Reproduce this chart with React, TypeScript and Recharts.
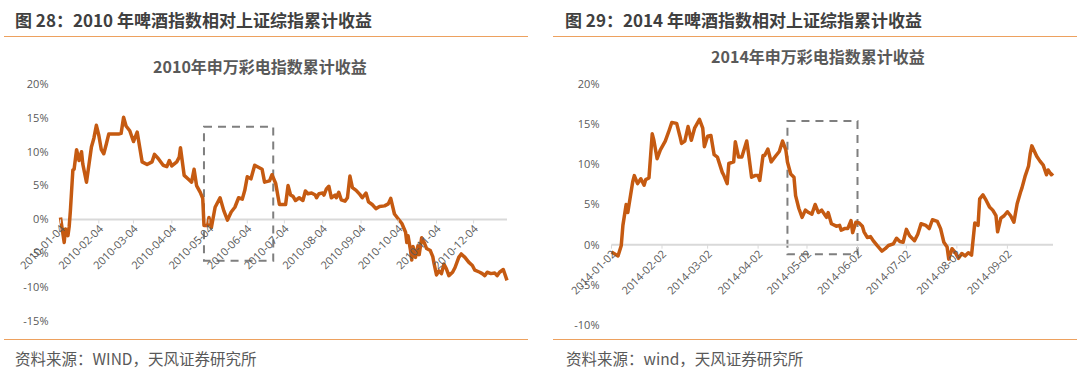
import { LineChart, Line, XAxis, YAxis, ReferenceLine, ReferenceArea } from 'recharts';

// ---- 2010 ----
const dates2010 = [
  '2010-01-04', '2010-01-07', '2010-01-08', '2010-01-10', '2010-01-11', '2010-01-12', '2010-01-14', '2010-01-15',
  '2010-01-17', '2010-01-19', '2010-01-21', '2010-01-22', '2010-01-25', '2010-01-29', '2010-01-31',
  '2010-02-02', '2010-02-04', '2010-02-06', '2010-02-08', '2010-02-10', '2010-02-12', '2010-02-20', '2010-02-22',
  '2010-02-24', '2010-02-26',
  '2010-03-01', '2010-03-04', '2010-03-07', '2010-03-11', '2010-03-15', '2010-03-19', '2010-03-21', '2010-03-24',
  '2010-03-28', '2010-03-31',
  '2010-04-02', '2010-04-04', '2010-04-08', '2010-04-10', '2010-04-11', '2010-04-14', '2010-04-17', '2010-04-20',
  '2010-04-22', '2010-04-24', '2010-04-27', '2010-04-29', '2010-04-30',
  '2010-05-03', '2010-05-04', '2010-05-06', '2010-05-09', '2010-05-13', '2010-05-16', '2010-05-19', '2010-05-22',
  '2010-05-25', '2010-05-28', '2010-05-31',
  '2010-06-02', '2010-06-04', '2010-06-07', '2010-06-10', '2010-06-13', '2010-06-16', '2010-06-18', '2010-06-22',
  '2010-06-24', '2010-06-27', '2010-06-30',
  '2010-07-05', '2010-07-07', '2010-07-09', '2010-07-11', '2010-07-13', '2010-07-16', '2010-07-19', '2010-07-21',
  '2010-07-23', '2010-07-26', '2010-07-29', '2010-07-30',
  '2010-08-01', '2010-08-04', '2010-08-05', '2010-08-07', '2010-08-09', '2010-08-11', '2010-08-14', '2010-08-15',
  '2010-08-17', '2010-08-19', '2010-08-22', '2010-08-24', '2010-08-26', '2010-08-28', '2010-08-31',
  '2010-09-03', '2010-09-05', '2010-09-08', '2010-09-10', '2010-09-13', '2010-09-16', '2010-09-19', '2010-09-23',
  '2010-09-26', '2010-09-28',
  '2010-10-01', '2010-10-04', '2010-10-07', '2010-10-10', '2010-10-11', '2010-10-12', '2010-10-14', '2010-10-15',
  '2010-10-16', '2010-10-18', '2010-10-20', '2010-10-21', '2010-10-23', '2010-10-25', '2010-10-27', '2010-10-30',
  '2010-11-01', '2010-11-02', '2010-11-04', '2010-11-06', '2010-11-08', '2010-11-10', '2010-11-12', '2010-11-14',
  '2010-11-17', '2010-11-19', '2010-11-22', '2010-11-24', '2010-11-27', '2010-11-30',
  '2010-12-03', '2010-12-05', '2010-12-09', '2010-12-11', '2010-12-13', '2010-12-15', '2010-12-18', '2010-12-21',
  '2010-12-23', '2010-12-25', '2010-12-28', '2010-12-31',
];
const values2010 = [
  0.3, -3.4, -1.4, -2.4, -1.1, 1.3, 7.3, 7.4, 10.3, 8.7, 10.0, 8.2, 5.5, 10.7, 12.0,
  13.9, 12.4, 10.3, 9.7, 11.1, 12.6, 12.6, 12.7, 15.1, 13.8,
  13.1, 11.5, 12.9, 8.5, 8.1, 8.5, 9.6, 9.0, 8.0, 7.8,
  8.7, 7.9, 8.5, 9.2, 10.6, 6.5, 6.0, 5.5, 7.4, 5.0, 4.0, 3.1, -0.9,
  -0.9, 0.3, -1.2, 1.8, 3.2, 1.3, -0.1, 1.1, 1.8, 3.2, 3.0,
  4.3, 6.3, 6.0, 8.0, 7.7, 7.4, 5.5, 5.7, 6.6, 5.3, 2.2,
  2.2, 5.0, 3.6, 3.4, 2.8, 3.2, 2.8, 4.2, 3.8, 3.9, 3.6, 3.2,
  3.8, 3.9, 3.6, 4.5, 4.9, 3.2, 3.6, 3.2, 4.0, 2.9, 2.7, 3.2, 6.4, 4.7, 4.3,
  3.7, 3.2, 3.9, 2.6, 2.2, 1.6, 1.9, 2.0, 2.3, 3.1,
  0.8, 0.1, -0.6, -1.9, -3.4, -2.4, -4.6, -6.0, -4.0, -5.6, -3.9, -5.2, -2.7, -3.4, -4.3, -4.6,
  -5.5, -6.5, -8.2, -7.6, -8.0, -6.6, -7.3, -8.3, -7.8, -7.1, -5.6, -5.1, -5.6, -6.3,
  -6.8, -7.5, -7.8, -8.0, -8.3, -7.8, -8.0, -7.9, -8.3, -7.8, -7.4, -9.0,
];
const ticks2010 = [
  '2010-01-04', '2010-02-04', '2010-03-04', '2010-04-04', '2010-05-04', '2010-06-04',
  '2010-07-04', '2010-08-04', '2010-09-04', '2010-10-04', '2010-11-04', '2010-12-04',
];
const yTicks2010 = [-15, -10, -5, 0, 5, 10, 15, 20];
const boxDates2010 = ['2010-04-30', '2010-06-25'];
const boxValues2010 = [-6.1, 13.7];

// ---- 2014 ----
const dates2014 = [
  '2014-01-02', '2014-01-06', '2014-01-08', '2014-01-09', '2014-01-11', '2014-01-12', '2014-01-15', '2014-01-16',
  '2014-01-18', '2014-01-20', '2014-01-22', '2014-01-23', '2014-01-25', '2014-01-27', '2014-01-28', '2014-01-30',
  '2014-02-01', '2014-02-04', '2014-02-06', '2014-02-08', '2014-02-11', '2014-02-13', '2014-02-14', '2014-02-16',
  '2014-02-18', '2014-02-20', '2014-02-22', '2014-02-25', '2014-02-27', '2014-02-28',
  '2014-03-02', '2014-03-04', '2014-03-06', '2014-03-08', '2014-03-11', '2014-03-12', '2014-03-14', '2014-03-15',
  '2014-03-18', '2014-03-19', '2014-03-21', '2014-03-23', '2014-03-26', '2014-03-27', '2014-03-29', '2014-03-31',
  '2014-04-02', '2014-04-03', '2014-04-05', '2014-04-06', '2014-04-08', '2014-04-10', '2014-04-13', '2014-04-15',
  '2014-04-17', '2014-04-19', '2014-04-20', '2014-04-22', '2014-04-24', '2014-04-25', '2014-04-27', '2014-04-29',
  '2014-05-01', '2014-05-03', '2014-05-05', '2014-05-07', '2014-05-09', '2014-05-11', '2014-05-13', '2014-05-14',
  '2014-05-15', '2014-05-17', '2014-05-20', '2014-05-22', '2014-05-23', '2014-05-25', '2014-05-27', '2014-05-29',
  '2014-05-30',
  '2014-06-01', '2014-06-03', '2014-06-05', '2014-06-06', '2014-06-08', '2014-06-10', '2014-06-12', '2014-06-14',
  '2014-06-17', '2014-06-19', '2014-06-21', '2014-06-24', '2014-06-26', '2014-06-28', '2014-06-30',
  '2014-07-02', '2014-07-04', '2014-07-07', '2014-07-09', '2014-07-11', '2014-07-14', '2014-07-16', '2014-07-18',
  '2014-07-21', '2014-07-23', '2014-07-25', '2014-07-27', '2014-07-28', '2014-07-30',
  '2014-08-01', '2014-08-03', '2014-08-05', '2014-08-07', '2014-08-09', '2014-08-11', '2014-08-13', '2014-08-15',
  '2014-08-16', '2014-08-18', '2014-08-20', '2014-08-22', '2014-08-24', '2014-08-26', '2014-08-27', '2014-08-29',
  '2014-08-31',
  '2014-09-02', '2014-09-04', '2014-09-06', '2014-09-08', '2014-09-10', '2014-09-11', '2014-09-13', '2014-09-15',
  '2014-09-16', '2014-09-17', '2014-09-20', '2014-09-22', '2014-09-24', '2014-09-26', '2014-09-27', '2014-09-29',
  '2014-09-30',
];
const values2014 = [
  -0.9, -1.4, -0.1, 2.4, 5.0, 4.0, 7.8, 8.6, 7.6, 8.2, 7.4, 8.1, 8.3, 13.8, 13.0, 10.7,
  11.8, 12.9, 14.0, 15.2, 15.1, 13.5, 12.6, 12.9, 14.7, 13.0, 14.5, 15.6, 14.5, 12.2,
  13.5, 13.6, 11.2, 10.9, 9.0, 8.6, 7.6, 10.1, 10.3, 12.8, 10.9, 10.9, 12.9, 11.5, 8.4, 8.6,
  8.6, 8.0, 11.1, 11.1, 11.9, 10.3, 11.1, 11.6, 12.9, 11.8, 10.3, 8.8, 8.4, 6.1, 4.5, 3.4,
  4.3, 4.0, 3.8, 5.0, 4.0, 4.3, 3.7, 3.4, 4.0, 2.6, 2.3, 2.4, 1.8, 2.0, 2.0, 3.0, 1.5,
  2.8, 2.7, 2.3, 1.6, 0.9, 1.0, 0.4, -0.1, -0.8, -0.5, -0.1, 0.1, 0.8, 0.4, 0.3,
  1.9, 1.1, 0.5, 1.3, 2.6, 2.4, 2.0, 3.1, 2.9, 2.0, 0.3, -0.3, -1.8, -0.5,
  -1.0, -1.7, -1.1, -1.4, -1.0, -1.3, 2.7, 2.4, 5.7, 6.2, 5.5, 4.7, 4.3, 3.6, 1.6, 3.3, 3.6,
  4.1, 3.6, 2.8, 5.1, 6.5, 7.1, 8.6, 9.8, 11.3, 12.3, 11.0, 10.4, 9.9, 8.7, 9.3, 8.7, 8.9,
];
const ticks2014 = [
  '2014-01-02', '2014-02-02', '2014-03-02', '2014-04-02', '2014-05-02',
  '2014-06-02', '2014-07-02', '2014-08-02', '2014-09-02',
];
const yTicks2014 = [-10, -5, 0, 5, 10, 15, 20];
const boxDates2014 = ['2014-04-20', '2014-06-02'];
const boxValues2014 = [-1.2, 15.4];

const LINE_COLOR = '#C55A11';
const RULE_COLOR = '#EDA15F';
const TEXT_DARK = '#404040';
const TEXT_GRAY = '#595959';
const CJK = '"Noto Sans CJK SC", "Noto Sans", sans-serif';
const AXIS_FONT = '"Open Sans", "Noto Sans", sans-serif';

const toTime = (d: string) => Date.parse(d);
const fmtDate = (t: number) => new Date(t).toISOString().slice(0, 10);

function DateTick({ x, payload, zeroY }: any) {
  const ax = x + 3;
  const ay = zeroY + 8;
  return (
    <g>
      <line x1={x} x2={x} y1={zeroY} y2={zeroY + 4} stroke="#d9d9d9" strokeWidth={1} />
      <text
        x={ax}
        y={ay}
        transform={`rotate(-45 ${ax} ${ay})`}
        textAnchor="end"
        dominantBaseline="middle"
        fontSize={11}
        fill={TEXT_GRAY}
        fontFamily={AXIS_FONT}
      >
        {fmtDate(payload.value)}
      </text>
    </g>
  );
}

interface PanelProps {
  left: number;
  title: string;
  chartTitle: string;
  source: string;
  dates: string[];
  values: number[];
  tickDates: string[];
  yTicks: number[];
  boxDates: string[];
  boxValues: number[];
  // layout
  ruleLeft: number;
  ruleWidth: number;
  titleLeft: number;
  chartTitleCenter: number;
  chartTitleY: number;
  plotLeft: number;
  plotRight: number;
  plotBottom: number;
  sourceLeft: number;
}

function Panel(p: PanelProps) {
  const data = p.dates.map((d, i) => ({ t: toTime(d), v: p.values[i] }));
  const yMin = p.yTicks[0];
  const yMax = p.yTicks[p.yTicks.length - 1];
  const top = 84;
  const xAxisH = 30;
  const plotH = p.plotBottom - top;
  const zeroY = top + (plotH * yMax) / (yMax - yMin);

  return (
    <div style={{ position: 'absolute', left: p.left, top: 0, width: 540, height: 376 }}>
      <div
        style={{
          position: 'absolute', left: p.titleLeft, top: 8, height: 24, lineHeight: '24px',
          fontFamily: CJK, fontWeight: 700, fontSize: 17, color: TEXT_DARK, whiteSpace: 'nowrap',
        }}
      >
        {p.title}
      </div>
      <div style={{ position: 'absolute', left: p.ruleLeft, top: 36, width: p.ruleWidth, height: 1, background: RULE_COLOR }} />
      <div
        style={{
          position: 'absolute', left: p.chartTitleCenter - 150, width: 300, top: p.chartTitleY - 10, height: 20,
          lineHeight: '20px', textAlign: 'center', fontFamily: CJK, fontWeight: 700, fontSize: 16,
          color: TEXT_GRAY, whiteSpace: 'nowrap',
        }}
      >
        {p.chartTitle}
      </div>
      <div style={{ position: 'absolute', left: 0, top: 0 }}>
        <LineChart
          width={540}
          height={376}
          data={data}
          margin={{ top, right: 540 - p.plotRight, left: 0, bottom: 376 - p.plotBottom - xAxisH }}
        >
          <XAxis
            dataKey="t"
            type="number"
            domain={[data[0].t, data[data.length - 1].t]}
            ticks={p.tickDates.map(toTime)}
            interval={0}
            axisLine={false}
            tickLine={false}
            height={xAxisH}
            tick={(props: any) => <DateTick {...props} zeroY={zeroY} />}
          />
          <YAxis
            type="number"
            domain={[yMin, yMax]}
            ticks={p.yTicks}
            interval={0}
            width={p.plotLeft}
            axisLine={false}
            tickLine={false}
            tickSize={6}
            tickMargin={6}
            tickFormatter={(v: number) => `${v}%`}
            tick={{ fontSize: 11, fill: TEXT_GRAY, fontFamily: AXIS_FONT }}
          />
          <ReferenceLine y={0} stroke="#d9d9d9" strokeWidth={2} />
          <Line
            type="linear"
            dataKey="v"
            stroke={LINE_COLOR}
            strokeWidth={3.5}
            strokeLinejoin="round"
            dot={false}
            activeDot={false}
            isAnimationActive={false}
          />
          <ReferenceArea
            x1={toTime(p.boxDates[0])}
            x2={toTime(p.boxDates[1])}
            y1={p.boxValues[0]}
            y2={p.boxValues[1]}
            fill="none"
            fillOpacity={0}
            stroke="#7f7f7f"
            strokeWidth={2}
            strokeDasharray="8 6"
            ifOverflow="visible"
          />
        </LineChart>
      </div>
      <div style={{ position: 'absolute', left: p.ruleLeft, top: 339, width: p.ruleWidth, height: 1, background: RULE_COLOR }} />
      <div
        style={{
          position: 'absolute', left: p.sourceLeft, top: 347, height: 22, lineHeight: '22px',
          fontFamily: CJK, fontSize: 15.5, color: TEXT_GRAY, whiteSpace: 'nowrap',
        }}
      >
        {p.source}
      </div>
    </div>
  );
}

export default function App() {
  return (
    <div style={{ position: 'absolute', left: 0, top: 0, width: 1080, height: 376, background: '#fff', overflow: 'hidden' }}>
      <Panel
        left={0}
        title="图 28：2010 年啤酒指数相对上证综指累计收益"
        chartTitle="2010年申万彩电指数累计收益"
        source="资料来源：WIND，天风证券研究所"
        dates={dates2010}
        values={values2010}
        tickDates={ticks2010}
        yTicks={yTicks2010}
        boxDates={boxDates2010}
        boxValues={boxValues2010}
        ruleLeft={4}
        ruleWidth={524}
        titleLeft={15}
        chartTitleCenter={260}
        chartTitleY={66}
        plotLeft={60.5}
        plotRight={507}
        plotBottom={321}
        sourceLeft={15}
      />
      <Panel
        left={540}
        title="图 29：2014 年啤酒指数相对上证综指累计收益"
        chartTitle="2014年申万彩电指数累计收益"
        source="资料来源：wind，天风证券研究所"
        dates={dates2014}
        values={values2014}
        tickDates={ticks2014}
        yTicks={yTicks2014}
        boxDates={boxDates2014}
        boxValues={boxValues2014}
        ruleLeft={13}
        ruleWidth={524}
        titleLeft={25}
        chartTitleCenter={278}
        chartTitleY={56}
        plotLeft={71.5}
        plotRight={513}
        plotBottom={325}
        sourceLeft={26}
      />
    </div>
  );
}
